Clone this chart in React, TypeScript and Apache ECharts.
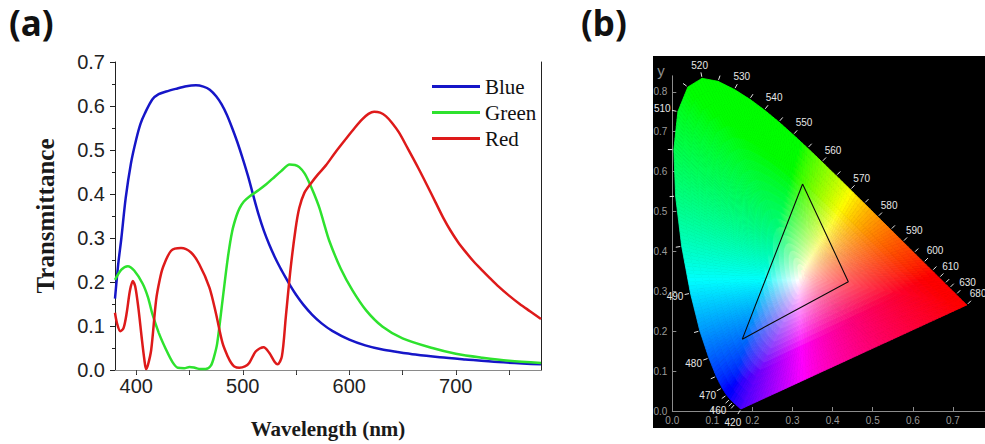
import React, { useEffect, useRef } from "react";
import * as echarts from "echarts";

// ---------- Panel (a): transmittance spectra ----------
const blueWl = [380, 383, 386, 390, 395, 400, 404, 408, 415, 421, 428, 437, 447, 456, 463, 469, 475, 480, 485, 490, 495, 500, 505, 510, 515, 520, 525, 530, 535, 540, 545, 550, 557, 565, 574, 584, 600, 615, 630, 645, 662, 685, 709, 740, 780];
const blueT = [0.162, 0.24, 0.3, 0.39, 0.47, 0.525, 0.56, 0.583, 0.615, 0.627, 0.633, 0.639, 0.645, 0.647, 0.644, 0.637, 0.622, 0.604, 0.58, 0.55, 0.517, 0.48, 0.44, 0.395, 0.352, 0.315, 0.284, 0.257, 0.233, 0.211, 0.19, 0.171, 0.148, 0.126, 0.106, 0.089, 0.069, 0.056, 0.047, 0.041, 0.035, 0.029, 0.024, 0.018, 0.013];

const greenWl = [380, 386, 392, 398, 406, 411, 415, 421, 428, 434, 439, 445, 450, 455, 460, 465, 470, 473, 476, 481, 486, 490, 494, 497, 501, 506, 515, 522, 528, 536, 544, 549, 553, 558, 562, 567, 572, 576, 581, 592, 603, 616, 631, 650, 678, 700, 725, 750, 780];
const greenT = [0.205, 0.228, 0.236, 0.226, 0.196, 0.165, 0.128, 0.085, 0.046, 0.018, 0.005, 0.004, 0.007, 0.005, 0.002, 0.002, 0.01, 0.03, 0.061, 0.159, 0.256, 0.315, 0.35, 0.368, 0.383, 0.394, 0.409, 0.422, 0.435, 0.452, 0.467, 0.466, 0.461, 0.447, 0.428, 0.4, 0.368, 0.335, 0.295, 0.23, 0.181, 0.135, 0.099, 0.072, 0.05, 0.037, 0.028, 0.021, 0.016];

const redWl = [380, 382, 385, 388, 391, 394, 396.7, 399, 402, 405, 407.5, 409.2, 411, 414, 418.6, 422, 425, 432.7, 442, 451.4, 459, 468.6, 474.8, 481, 486, 489, 492, 496.7, 502, 506, 512.3, 519.5, 524.8, 530, 532.6, 536.7, 540.4, 545, 549.5, 553, 557.7, 563.9, 570, 578, 587, 596.7, 605, 612.3, 618, 623.3, 629, 634.3, 640, 646.6, 655, 665, 673, 681, 688, 695, 702, 709, 717, 725, 732, 740, 750, 760, 770, 780];
const redT = [0.13, 0.105, 0.088, 0.095, 0.13, 0.18, 0.202, 0.19, 0.14, 0.075, 0.025, 0.002, 0.012, 0.046, 0.159, 0.205, 0.233, 0.271, 0.277, 0.267, 0.241, 0.188, 0.1285, 0.061, 0.03, 0.0164, 0.008, 0.005, 0.008, 0.016, 0.0426, 0.0516, 0.039, 0.018, 0.0128, 0.031, 0.121, 0.233, 0.32, 0.368, 0.402, 0.424, 0.443, 0.465, 0.495, 0.525, 0.55, 0.57, 0.582, 0.587, 0.585, 0.577, 0.562, 0.54, 0.503, 0.458, 0.42, 0.381, 0.347, 0.317, 0.291, 0.269, 0.246, 0.226, 0.209, 0.19, 0.169, 0.15, 0.133, 0.116];

const seriesNames = ["Blue", "Green", "Red"];
const seriesColors = ["#1616c8", "#2ee22e", "#de1a1a"];
const xLabelValues = [400, 500, 600, 700];
const xTickValues = [400, 450, 500, 550, 600, 650, 700, 750];

// ---------- Panel (b): CIE 1931 chromaticity diagram ----------
const locusWl = [420, 425, 430, 435, 440, 445, 450, 455, 460, 465, 470, 475, 480, 485, 490, 495, 500, 505, 510, 515, 520, 525, 530, 535, 540, 545, 550, 555, 560, 565, 570, 575, 580, 585, 590, 595, 600, 605, 610, 615, 620, 625, 630, 635, 640, 645, 650, 660, 670, 680];
const locusX = [0.17141, 0.1703, 0.16888, 0.1669, 0.16441, 0.1611, 0.15664, 0.15099, 0.14396, 0.1355, 0.12412, 0.10959, 0.09129, 0.06871, 0.04539, 0.02346, 0.00817, 0.00386, 0.01387, 0.03885, 0.0743, 0.11416, 0.15472, 0.19288, 0.22962, 0.26578, 0.3016, 0.33736, 0.3731, 0.40874, 0.44406, 0.47877, 0.51249, 0.54479, 0.57515, 0.60293, 0.62704, 0.64823, 0.66576, 0.68008, 0.6915, 0.70061, 0.70792, 0.71403, 0.71903, 0.72303, 0.72599, 0.73012, 0.73276, 0.73439];
const locusY = [0.0051, 0.00579, 0.0069, 0.00855, 0.01086, 0.01379, 0.01771, 0.02274, 0.0297, 0.03988, 0.0578, 0.08684, 0.1327, 0.20072, 0.29498, 0.4127, 0.53842, 0.65482, 0.75019, 0.81202, 0.8338, 0.82621, 0.80586, 0.78163, 0.75433, 0.72432, 0.69231, 0.65885, 0.62445, 0.58961, 0.55472, 0.5202, 0.48659, 0.45443, 0.42423, 0.3965, 0.37249, 0.35139, 0.33401, 0.31975, 0.30834, 0.2993, 0.29203, 0.28593, 0.28093, 0.27695, 0.27401, 0.26988, 0.26724, 0.26561];
const labelWl = [420, 460, 470, 480, 490, 510, 520, 530, 540, 550, 560, 570, 580, 590, 600, 610, 630, 680];
const tickWl = [420, 450, 455, 460, 465, 470, 475, 480, 485, 490, 495, 500, 505, 510, 515, 520, 525, 530, 535, 540, 545, 550, 555, 560, 565, 570, 575, 580, 585, 590, 595, 600, 605, 610, 615, 620, 630, 680];
const triangleX = [0.325, 0.439, 0.1746];
const triangleY = [0.569, 0.324, 0.18];

// rendering helpers (not data)
const WHITE = [0.335, 0.335];
const RING_COUNT = 22;
const RINGS = Array.from({ length: RING_COUNT + 1 }, (_, k) => Math.pow(k / RING_COUNT, 1.35));

function gammaC(c: number): number {
  const v = c <= 0.0031308 ? 12.92 * c : 1.055 * Math.pow(c, 1 / 2.4) - 0.055;
  return Math.round(Math.max(0, Math.min(1, v)) * 255);
}

function xyToRgb(x: number, y: number): string {
  const X = x / y;
  const Y = 1;
  const Z = (1 - x - y) / y;
  let r = 3.2406 * X - 1.5372 * Y - 0.4986 * Z;
  let g = -0.9689 * X + 1.8758 * Y + 0.0415 * Z;
  let b = 0.0557 * X - 0.204 * Y + 1.057 * Z;
  r = Math.max(r, 0);
  g = Math.max(g, 0);
  b = Math.max(b, 0);
  const m = Math.max(r, g, b) || 1;
  const s = 1.5;
  return `rgb(${gammaC(Math.pow(r / m, s))},${gammaC(Math.pow(g / m, s))},${gammaC(Math.pow(b / m, s))})`;
}

function buildBoundary(): number[][] {
  const pts: number[][] = locusWl.map((_, i) => [locusX[i], locusY[i]]);
  const a = pts[pts.length - 1];
  const b = pts[0];
  const n = 14;
  for (let k = 1; k < n; k++) {
    pts.push([a[0] + ((b[0] - a[0]) * k) / n, a[1] + ((b[1] - a[1]) * k) / n]);
  }
  const out: number[][] = [];
  for (let i = 0; i < pts.length; i++) {
    const p = pts[i];
    const q = pts[(i + 1) % pts.length];
    const d = Math.hypot(q[0] - p[0], q[1] - p[1]);
    const m = Math.max(1, Math.ceil(d / 0.01));
    for (let k = 0; k < m; k++) {
      out.push([p[0] + ((q[0] - p[0]) * k) / m, p[1] + ((q[1] - p[1]) * k) / m]);
    }
  }
  return out;
}

const zip = (a: number[], b: number[]) => a.map((v, i) => [v, b[i]]);

export default function App() {
  const ref = useRef<HTMLDivElement>(null);

  useEffect(() => {
    if (!ref.current) return;
    const chart = echarts.init(ref.current, null, { renderer: "svg" });
    const boundary = buildBoundary();
    const tickIdx = tickWl.map((w) => locusWl.indexOf(w));

    const meshRender = (params: any, api: any) => {
      const j = params.dataIndex;
      const p = boundary[j];
      const q = boundary[(j + 1) % boundary.length];
      const at = (s: number[], t: number) =>
        api.coord([WHITE[0] + (s[0] - WHITE[0]) * t, WHITE[1] + (s[1] - WHITE[1]) * t]);
      const mid = [(p[0] + q[0]) / 2, (p[1] + q[1]) / 2];
      const children: any[] = [];
      for (let k = 0; k < RINGS.length - 1; k++) {
        const t0 = RINGS[k];
        const t1 = RINGS[k + 1];
        const tc = (t0 + t1) / 2;
        const cx = WHITE[0] + (mid[0] - WHITE[0]) * tc;
        const cy = WHITE[1] + (mid[1] - WHITE[1]) * tc;
        const col = xyToRgb(cx, cy);
        const points = k === 0 ? [at(p, 0), at(q, t1), at(p, t1)] : [at(p, t0), at(q, t0), at(q, t1), at(p, t1)];
        children.push({
          type: "polygon",
          shape: { points },
          style: { fill: col, stroke: col, lineWidth: 0.8 },
          silent: true,
        });
      }
      return { type: "group", children };
    };

    const tickRender = (params: any, api: any) => {
      const li = tickIdx[params.dataIndex];
      const wl = locusWl[li];
      const p = api.coord([locusX[li], locusY[li]]);
      const prevI = Math.max(0, li - 1);
      const nextI = Math.min(locusWl.length - 1, li + 1);
      const a = api.coord([locusX[prevI], locusY[prevI]]);
      const b = api.coord([locusX[nextI], locusY[nextI]]);
      let tx = b[0] - a[0];
      let ty = b[1] - a[1];
      const tl = Math.hypot(tx, ty) || 1;
      tx /= tl;
      ty /= tl;
      let nx = ty;
      let ny = -tx;
      const w = api.coord(WHITE);
      if (nx * (p[0] - w[0]) + ny * (p[1] - w[1]) < 0) {
        nx = -nx;
        ny = -ny;
      }
      const children: any[] = [
        {
          type: "line",
          shape: { x1: p[0] + nx * 1.5, y1: p[1] + ny * 1.5, x2: p[0] + nx * 6, y2: p[1] + ny * 6 },
          style: { stroke: "#e8e8e8", lineWidth: 1 },
        },
      ];
      if (labelWl.indexOf(wl) >= 0) {
        const d = 7 + Math.abs(nx) * 8 + Math.abs(ny) * 5;
        children.push({
          type: "text",
          x: p[0] + nx * d,
          y: p[1] + ny * d,
          style: {
            text: String(wl),
            fill: "#e6e6e6",
            font: '10px "Liberation Sans"',
            align: "center",
            verticalAlign: "middle",
          },
        });
      }
      return { type: "group", children };
    };

    const axisFont = "Liberation Sans";
    const titleStyle = { fontFamily: "Liberation Serif", fontWeight: "bold" as const, color: "#1a1a1a" };

    const option: any = {
      animation: false,
      backgroundColor: "#ffffff",
      grid: [
        { left: 115, right: 444, top: 62, bottom: 70 },
        { left: 672.3, right: 0, top: 75.8, bottom: 33 },
      ],
      legend: {
        data: seriesNames,
        orient: "vertical",
        left: 432,
        top: 76,
        padding: 0,
        itemWidth: 48,
        itemHeight: 3,
        itemGap: 5,
        icon: "rect",
        selectedMode: false,
        textStyle: { fontFamily: "Liberation Serif", fontSize: 21, color: "#111", lineHeight: 21 },
      },
      xAxis: [
        {
          gridIndex: 0,
          type: "value",
          min: 380,
          max: 780,
          position: "bottom",
          name: "Wavelength (nm)",
          nameLocation: "middle",
          nameGap: 48,
          nameTextStyle: { ...titleStyle, fontSize: 21 },
          axisLine: { show: true, lineStyle: { color: "#222", width: 1 } },
          axisTick: { show: true, inside: false, length: 5, customValues: xTickValues, lineStyle: { color: "#222" } },
          axisLabel: { show: true, customValues: xLabelValues, fontSize: 20, color: "#222", margin: 6, fontFamily: axisFont },
          splitLine: { show: false },
        },
        {
          gridIndex: 0,
          type: "value",
          min: 380,
          max: 780,
          position: "top",
          axisLine: { show: true, lineStyle: { color: "#8a8a8a", width: 1 } },
          axisTick: { show: true, inside: true, length: 4, customValues: xTickValues, lineStyle: { color: "#444" } },
          axisLabel: { show: false },
          splitLine: { show: false },
        },
        {
          gridIndex: 1,
          type: "value",
          min: 0,
          max: 0.78,
          interval: 0.1,
          axisLine: { show: true, lineStyle: { color: "#8c8c8c", width: 1 } },
          axisTick: { show: true, inside: true, length: 4, lineStyle: { color: "#8c8c8c" } },
          axisLabel: {
            show: true,
            color: "#9a9a9a",
            fontSize: 10,
            margin: 4,
            fontFamily: axisFont,
            showMaxLabel: false,
            formatter: (v: number) => v.toFixed(1),
          },
          splitLine: { show: false },
        },
      ],
      yAxis: [
        {
          gridIndex: 0,
          type: "value",
          min: 0,
          max: 0.7,
          interval: 0.1,
          position: "left",
          name: "Transmittance",
          nameLocation: "middle",
          nameGap: 57,
          nameTextStyle: { ...titleStyle, fontSize: 25 },
          axisLine: { show: true, lineStyle: { color: "#222", width: 1 } },
          axisTick: { show: true, inside: false, length: 5, lineStyle: { color: "#222" } },
          minorTick: { show: true, splitNumber: 2, length: 3, lineStyle: { color: "#222" } },
          axisLabel: { show: true, fontSize: 20, color: "#222", margin: 10, fontFamily: axisFont, formatter: (v: number) => v.toFixed(1) },
          splitLine: { show: false },
          minorSplitLine: { show: false },
        },
        {
          gridIndex: 0,
          type: "value",
          min: 0,
          max: 0.7,
          position: "right",
          axisLine: { show: true, lineStyle: { color: "#222", width: 1 } },
          axisTick: { show: false },
          axisLabel: { show: false },
          splitLine: { show: false },
        },
        {
          gridIndex: 1,
          type: "value",
          min: 0,
          max: 0.84,
          interval: 0.1,
          axisLine: { show: true, lineStyle: { color: "#8c8c8c", width: 1 } },
          axisTick: { show: true, inside: true, length: 4, lineStyle: { color: "#8c8c8c" } },
          axisLabel: {
            show: true,
            color: "#9a9a9a",
            fontSize: 10,
            margin: 5,
            fontFamily: axisFont,
            showMaxLabel: false,
            formatter: (v: number) => v.toFixed(1),
          },
          splitLine: { show: false },
        },
      ],
      series: [
        ...[zip(blueWl, blueT), zip(greenWl, greenT), zip(redWl, redT)].map((data, i) => ({
          name: seriesNames[i],
          type: "line",
          xAxisIndex: 0,
          yAxisIndex: 0,
          data,
          smooth: 0.3,
          symbol: "none",
          clip: true,
          color: seriesColors[i],
          lineStyle: { color: seriesColors[i], width: 2.5 },
          z: 3,
        })),
        {
          type: "custom",
          name: "gamut",
          xAxisIndex: 2,
          yAxisIndex: 2,
          data: boundary.map((p) => [p[0], p[1]]),
          renderItem: meshRender,
          silent: true,
          z: 2,
        },
        {
          type: "line",
          name: "triangle",
          xAxisIndex: 2,
          yAxisIndex: 2,
          data: [...zip(triangleX, triangleY), [triangleX[0], triangleY[0]]],
          symbol: "none",
          lineStyle: { color: "#0a0a0a", width: 1.1 },
          silent: true,
          z: 4,
        },
        {
          type: "custom",
          name: "wavelengths",
          xAxisIndex: 2,
          yAxisIndex: 2,
          data: tickIdx.map((li) => [locusX[li], locusY[li]]),
          renderItem: tickRender,
          silent: true,
          z: 5,
        },
      ],
      graphic: [
        { type: "rect", shape: { x: 653, y: 56, width: 332, height: 372 }, style: { fill: "#000" }, z: -1, silent: true },
        { type: "text", x: 9, y: 5, style: { text: "(a)", font: 'bold 35px "Noto Sans"', fill: "#111", verticalAlign: "top" } },
        { type: "text", x: 581, y: 5, style: { text: "(b)", font: 'bold 35px "Noto Sans"', fill: "#111", verticalAlign: "top" } },
        { type: "text", x: 661, y: 70, style: { text: "y", font: '15px "Liberation Sans"', fill: "#8c8c8c", align: "center", verticalAlign: "middle" } },
      ],
    };

    chart.setOption(option);
    return () => chart.dispose();
  }, []);

  return (
    <div
      ref={ref}
      style={{ position: "absolute", left: 0, top: 0, width: 985, height: 444, background: "#fff" }}
    />
  );
}
